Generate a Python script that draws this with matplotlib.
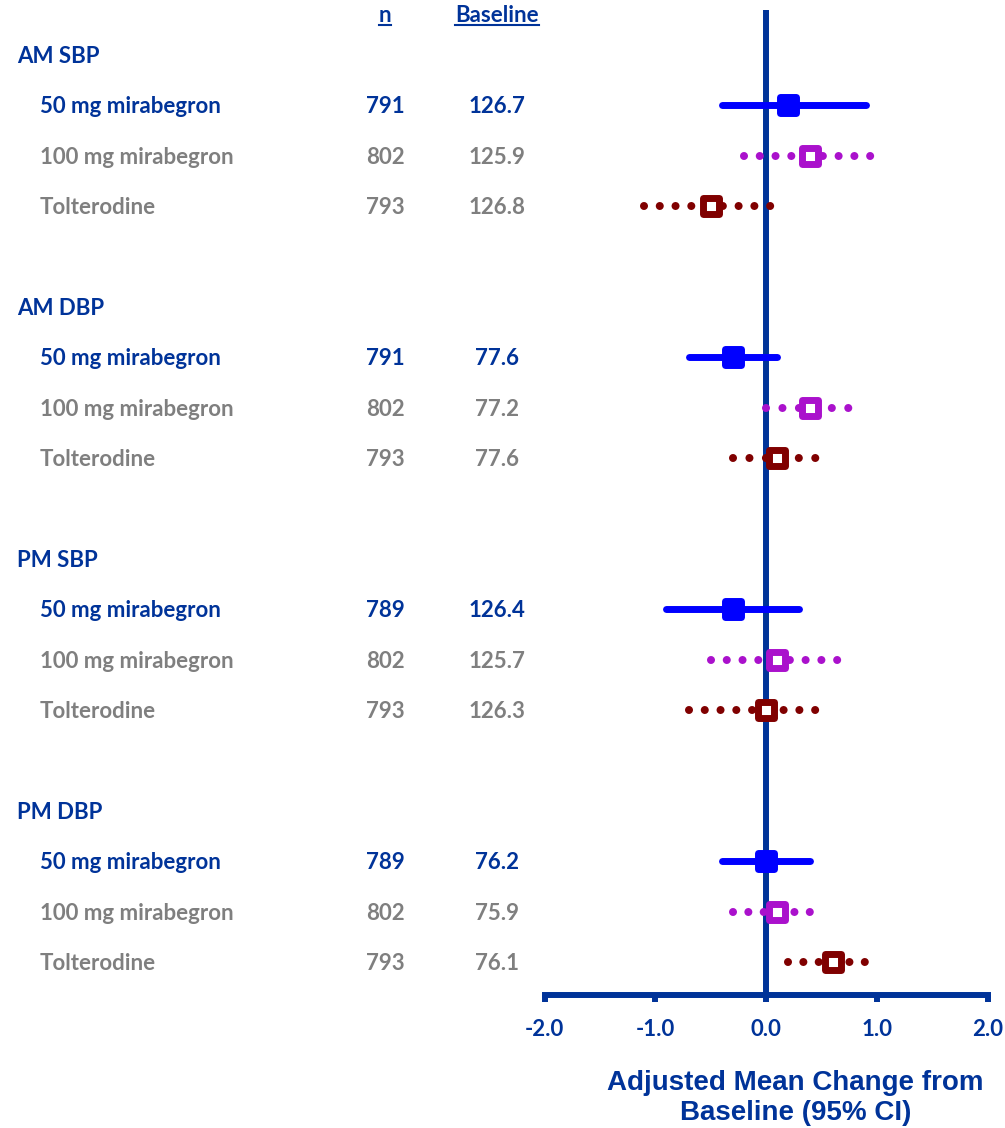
import matplotlib.pyplot as plt
from matplotlib.lines import Line2D
from matplotlib.markers import MarkerStyle
from matplotlib.transforms import blended_transform_factory

# Forest plot data: blood pressure change from baseline
groups = ["AM SBP", "AM DBP", "PM SBP", "PM DBP"]
treatments = ["50 mg mirabegron", "100 mg mirabegron", "Tolterodine"]
n_vals = [[791, 802, 793], [791, 802, 793], [789, 802, 793], [789, 802, 793]]
baseline = [["126.7", "125.9", "126.8"], ["77.6", "77.2", "77.6"],
            ["126.4", "125.7", "126.3"], ["76.2", "75.9", "76.1"]]
means = [[0.2, 0.4, -0.5], [-0.3, 0.4, 0.1], [-0.3, 0.1, 0.0], [0.0, 0.1, 0.6]]
ci_low = [[-0.4, -0.2, -1.1], [-0.7, 0.0, -0.3], [-0.9, -0.5, -0.7], [-0.4, -0.3, 0.2]]
ci_high = [[0.9, 0.95, 0.05], [0.1, 0.75, 0.45], [0.3, 0.65, 0.45], [0.4, 0.4, 0.9]]
xticks = [-2.0, -1.0, 0.0, 1.0, 2.0]

NAVY = "#003399"
GREY = "#7F7F7F"
trt_colors = ["#0000FF", "#AA11CC", "#800000"]
text_colors = [NAVY, GREY, GREY]

W, H = 1005, 1128
fig = plt.figure(figsize=(W / 100, H / 100), dpi=100)
ax = fig.add_axes([544.5 / W, (H - 995) / H, 443.2 / W, 985 / H])
ax.set_xlim(-2, 2)
# rows: 0 = first group header, 50.4 px per row
ax.set_ylim((995 - 55) / 50.4, (10 - 55) / 50.4)

for s in ["left", "right", "top"]:
    ax.spines[s].set_visible(False)
ax.spines["bottom"].set_color(NAVY)
ax.spines["bottom"].set_linewidth(4.3)
ax.set_yticks([])
ax.set_xticks(xticks)
ax.set_xticklabels([f"{t:.1f}" for t in xticks])
ax.tick_params(axis="x", direction="out", length=5, width=4.3, color=NAVY,
               labelcolor=NAVY, labelsize=16, pad=12)
for lab in ax.get_xticklabels():
    lab.set_fontfamily("Lato")
    lab.set_fontweight("bold")

ax.axvline(0, color=NAVY, lw=4.3, zorder=1)

# text columns sit left of the plot (x in figure fraction, y in rows)
tt = blended_transform_factory(fig.transFigure, ax.transData)

font = dict(family="Lato", weight="bold", fontsize=16)
x_grp, x_trt, x_n, x_base = 17 / W, 40 / W, 385 / W, 497 / W

hdr_n = ax.text(x_n, -0.774, "n", transform=tt, ha="center", va="center", color=NAVY, **font)
hdr_b = ax.text(x_base, -0.774, "Baseline", transform=tt, ha="center", va="center", color=NAVY, **font)

sq = MarkerStyle("s", joinstyle="round")
px_per_unit = 443.2 / 4
dot_lw = 5.8
dot_gap_px = 16

for g, grp in enumerate(groups):
    y0 = 5 * g
    ax.text(x_grp, y0 + 0.03, grp, transform=tt, ha="left", va="center", color=NAVY, **font)
    for j, trt in enumerate(treatments):
        y = y0 + 1 + j + 0.03
        c = text_colors[j]
        ax.text(x_trt, y, trt, transform=tt, ha="left", va="center", color=c, **font)
        ax.text(x_n, y, str(n_vals[g][j]), transform=tt, ha="center", va="center", color=c, **font)
        ax.text(x_base, y, baseline[g][j], transform=tt, ha="center", va="center", color=c, **font)

        y = y0 + 1 + j
        col = trt_colors[j]
        lo, hi = ci_low[g][j], ci_high[g][j]
        if j == 0:
            ax.plot([lo, hi], [y, y], color=col, lw=5, solid_capstyle="round", zorder=2)
            ax.plot(means[g][j], y, marker=sq, ms=11.5, mew=5, mfc=col, mec=col,
                    ls="none", zorder=3)
        else:
            # round dots, spacing stretched so a dot sits on each CI end
            length_px = (hi - lo) * px_per_unit
            k = max(1, round(length_px / dot_gap_px))
            period_pt = length_px / k * 0.72 * 0.99
            ax.plot([lo, hi], [y, y], color=col, lw=dot_lw,
                    ls=(0, (0.001, period_pt / dot_lw - 0.001)),
                    dash_capstyle="round", zorder=2)
            ax.plot(means[g][j], y, marker=sq, ms=11.5, mew=5, mfc="white", mec=col,
                    ls="none", zorder=3)

ax.set_xlabel("Adjusted Mean Change from\nBaseline (95% CI)", fontsize=20,
              fontweight="bold", family="Liberation Sans", color=NAVY, linespacing=1.2)
ax.xaxis.set_label_coords((795.5 - 544.5) / 443.2, -0.076)

# underline the column headers
fig.canvas.draw()
r = fig.canvas.get_renderer()
for t in (hdr_n, hdr_b):
    bb = t.get_window_extent(r)
    yy = (bb.y0 + 1) / H
    fig.add_artist(Line2D([bb.x0 / W, bb.x1 / W], [yy, yy], color=NAVY, lw=1.5))

fig.savefig("out.png", dpi=100)
